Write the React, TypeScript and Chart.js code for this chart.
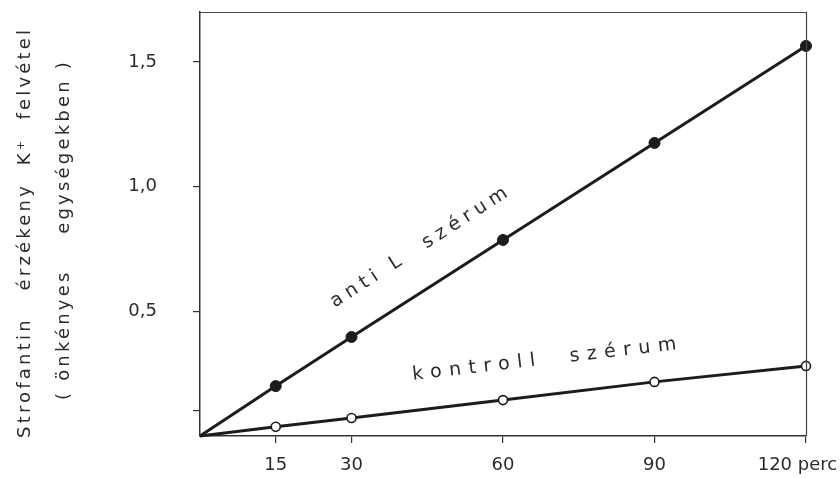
import { useEffect, useRef } from 'react';
import { Chart, registerables } from 'chart.js';

Chart.register(...registerables);

const minutes = [0, 15, 30, 60, 90, 120];
const antiL = [0, 0.2, 0.397, 0.786, 1.175, 1.564];
const kontroll = [0, 0.037, 0.072, 0.144, 0.217, 0.281];
const xTicks = [15, 30, 60, 90, 120];
const xTickLabels = ['15', '30', '60', '90', '120 perc   '];
const yTicks = [0.1, 0.5, 1.0, 1.5];
const yTitleLine1 = 'Strofantin   érzékeny  K⁺  felvétel';
const yTitleLine2 = '( önkényes    egységekben )';
const antiLabel = 'anti L  szérum';
const kontrollLabel = 'kontroll  szérum';

const INK = '#1c1c1c';
const TEXT = '#2b2b2b';
const FONT = '"DejaVu Sans", sans-serif';

const annotPlugin = {
  id: 'annot',
  beforeDraw(chart: any) {
    const { ctx, width, height } = chart;
    ctx.save();
    ctx.fillStyle = '#ffffff';
    ctx.fillRect(0, 0, width, height);
    ctx.restore();
  },
  afterDraw(chart: any) {
    const { ctx, chartArea, scales } = chart;
    const { left, right, top, bottom } = chartArea;
    const x = scales.x;
    const y = scales.y;
    ctx.save();
    // top and right frame
    ctx.strokeStyle = '#444';
    ctx.lineWidth = 1.2;
    ctx.beginPath();
    ctx.moveTo(left, top + 0.5);
    ctx.lineTo(right + 0.5, top + 0.5);
    ctx.lineTo(right + 0.5, bottom);
    ctx.stroke();

    // y axis title (two rotated lines)
    ctx.fillStyle = TEXT;
    ctx.font = '18px ' + FONT;
    (ctx as any).letterSpacing = '3.2px';
    ctx.textBaseline = 'middle';
    ctx.textAlign = 'left';
    ctx.save();
    ctx.translate(25, 438);
    ctx.rotate(-Math.PI / 2);
    ctx.fillText(yTitleLine1, 0, 0);
    ctx.restore();
    ctx.save();
    ctx.translate(64, 400);
    ctx.rotate(-Math.PI / 2);
    ctx.fillText(yTitleLine2, 0, 0);
    ctx.restore();

    // series labels along the lines
    const angleOf = (arr: number[]) =>
      Math.atan2(
        y.getPixelForValue(arr[arr.length - 1]) - y.getPixelForValue(arr[0]),
        x.getPixelForValue(minutes[minutes.length - 1]) - x.getPixelForValue(minutes[0])
      );
    ctx.textBaseline = 'alphabetic';
    ctx.font = '19px ' + FONT;
    (ctx as any).letterSpacing = '5.5px';
    ctx.save();
    ctx.translate(x.getPixelForValue(26.7), y.getPixelForValue(0.514));
    ctx.rotate(angleOf(antiL));
    ctx.fillText(antiLabel, 0, 0);
    ctx.restore();

    (ctx as any).letterSpacing = '7.5px';
    ctx.save();
    ctx.translate(x.getPixelForValue(42.2), y.getPixelForValue(0.225));
    ctx.rotate(angleOf(kontroll));
    ctx.fillText(kontrollLabel, 0, 0);
    ctx.restore();

    ctx.restore();
  },
};

export default function App() {
  const ref = useRef<HTMLCanvasElement>(null);

  useEffect(() => {
    document.body.style.margin = '0';
    const canvas = ref.current;
    if (!canvas) return;
    const chart = new Chart(canvas, {
      type: 'line',
      data: {
        datasets: [
          {
            data: minutes.map((m, i) => ({ x: m, y: antiL[i] })),
            borderColor: INK,
            borderWidth: 3,
            pointRadius: minutes.map((m) => (m === 0 ? 0 : 5.5)),
            pointBackgroundColor: INK,
            pointBorderColor: INK,
            pointBorderWidth: 1,
            tension: 0,
            clip: false as any,
          },
          {
            data: minutes.map((m, i) => ({ x: m, y: kontroll[i] })),
            borderColor: INK,
            borderWidth: 3,
            pointRadius: minutes.map((m) => (m === 0 ? 0 : 4.5)),
            pointBackgroundColor: '#ffffff',
            pointBorderColor: INK,
            pointBorderWidth: 1.6,
            tension: 0,
            clip: false as any,
          },
        ],
      },
      options: {
        animation: false,
        responsive: false,
        layout: { padding: { top: 12, right: 34, left: 0, bottom: 0 } },
        plugins: {
          legend: { display: false },
          tooltip: { enabled: false },
          title: { display: false },
        },
        scales: {
          x: {
            type: 'linear',
            min: 0,
            max: 120,
            afterBuildTicks: (s: any) => {
              s.ticks = xTicks.map((v) => ({ value: v }));
            },
            afterFit: (s: any) => {
              s.height = 42;
              s.paddingLeft = 0;
              s.paddingRight = 0;
            },
            grid: {
              drawOnChartArea: false,
              drawTicks: true,
              tickLength: 7,
              color: '#333',
              lineWidth: 1.2,
            },
            border: { display: true, color: '#333', width: 1.5 },
            ticks: {
              autoSkip: false,
              maxRotation: 0,
              padding: 12,
              color: TEXT,
              font: { family: FONT, size: 18 },
              callback: (v: any) => {
                const i = xTicks.indexOf(Number(v));
                return i >= 0 ? xTickLabels[i] : '';
              },
            },
          },
          y: {
            type: 'linear',
            min: 0,
            max: 1.7,
            afterBuildTicks: (s: any) => {
              s.ticks = yTicks.map((v) => ({ value: v }));
            },
            afterFit: (s: any) => {
              s.width = 200;
              s.paddingTop = 0;
              s.paddingBottom = 0;
            },
            grid: {
              drawOnChartArea: false,
              drawTicks: true,
              tickLength: 7,
              color: '#333',
              lineWidth: 1.2,
            },
            border: { display: true, color: '#333', width: 1.5 },
            ticks: {
              autoSkip: false,
              padding: 36,
              color: TEXT,
              font: { family: FONT, size: 18 },
              callback: (v: any) => {
                const n = Number(v);
                if (Math.abs(n - 0.1) < 1e-6) return '';
                return n.toFixed(1).replace('.', ',');
              },
            },
          },
        },
      },
      plugins: [annotPlugin],
    } as any);
    return () => chart.destroy();
  }, []);

  return (
    <div style={{ width: 840, height: 478 }}>
      <canvas ref={ref} width={840} height={478} style={{ display: 'block' }} />
    </div>
  );
}
